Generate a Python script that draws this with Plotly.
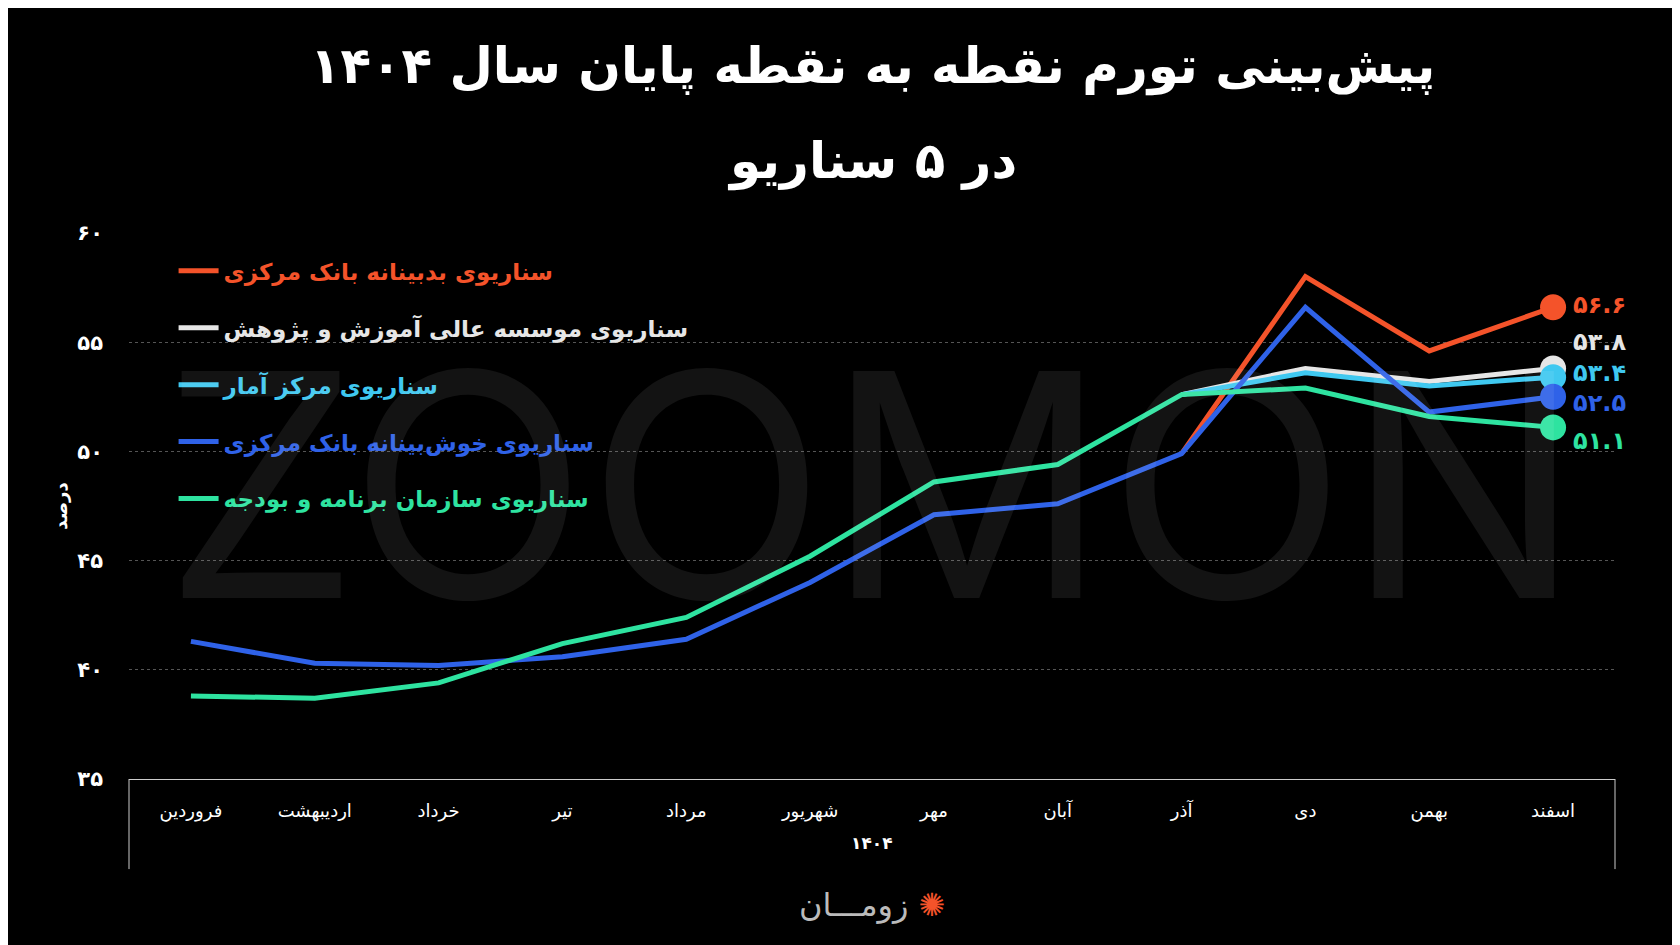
import plotly.graph_objects as go

months = ["فروردین","اردیبهشت","خرداد","تیر","مرداد","شهریور","مهر","آبان","آذر","دی","بهمن","اسفند"]
budget = [38.8,38.7,39.4,41.2,42.4,45.2,48.6,49.4,52.6,52.9,51.6,51.1]
optimistic = [41.3,40.3,40.2,40.6,41.4,44.0,47.1,47.6,49.9,56.6,51.8,52.5]
pessimistic = [None]*8 + [49.9,58.0,54.6,56.6]
research = [None]*8 + [52.6,53.8,53.2,53.8]
stats = [None]*8 + [52.6,53.6,53.0,53.4]
end_labels = ["۵۶.۶","۵۳.۸","۵۳.۴","۵۲.۵","۵۱.۱"]
names = ["سناریوی بدبینانه بانک مرکزی","سناریوی موسسه عالی آموزش و پژوهش","سناریوی مرکز آمار",
         "سناریوی خوش‌بینانه بانک مرکزی","سناریوی سازمان برنامه و بودجه"]
colors = ["#f4532a","#e6e6e6","#3fc8f0","#2f62e8","#2ee3a0"]
series = [pessimistic, research, stats, optimistic, budget]
label_shift = [2, 26, 4, -6, -14]
yticks = [35,40,45,50,55,60]
ytick_text = ["۳۵","۴۰","۴۵","۵۰","۵۵","۶۰"]

F = "DejaVu Sans"
fig = go.Figure()
for i in range(5):
    fig.add_trace(go.Scatter(
        x=months, y=series[i], mode="lines",
        line=dict(color=colors[i], width=5), legendgroup=f"g{i}",
        name=f"<b><span style='color:{colors[i]}'>{names[i]}</span></b>",
        legendrank=i+1))
for i in range(5):
    fig.add_trace(go.Scatter(
        x=[months[-1]], y=[series[i][-1]], mode="markers",
        marker=dict(color=colors[i], size=26),
        showlegend=False, cliponaxis=False))
    fig.add_annotation(x=months[-1], y=series[i][-1], text=f"<b>{end_labels[i]}</b>", showarrow=False,
                       xanchor="left", xshift=18, yshift=label_shift[i],
                       font=dict(color=colors[i], size=24, family=F))

fig.add_annotation(text="ZOOMON", x=0.5, y=0.54, xref="paper", yref="paper", showarrow=False,
                   font=dict(size=312, color="rgba(255,255,255,0.075)", family="Inter"))
fig.add_annotation(text="<b>پیش‌بینی تورم نقطه به نقطه پایان سال ۱۴۰۴</b>",
                   x=0.5, y=1.0, xref="paper", yref="paper", yshift=198, showarrow=False,
                   font=dict(size=50, color="white", family=F))
fig.add_annotation(text="<b>در ۵ سناریو</b>",
                   x=0.5, y=1.0, xref="paper", yref="paper", yshift=103, showarrow=False,
                   font=dict(size=50, color="white", family=F))
fig.add_annotation(text="<b>درصد</b>", x=-0.055, y=0.5, xref="paper", yref="paper", showarrow=False,
                   textangle=-90, font=dict(size=18, color="white", family=F))
fig.add_annotation(text="<b>۱۴۰۴</b>", x=0.5, y=-0.14, xref="paper", yref="paper", showarrow=False,
                   font=dict(size=17, color="white", family=F))
fig.add_annotation(text="زومـــان <span style='color:#f4532a'>✺</span>", x=0.5, y=-0.27, xref="paper", yref="paper", showarrow=False,
                   font=dict(size=32, color="#bbbbbb", family=F))
for xv in [0, 1]:
    fig.add_shape(type="line", x0=xv, x1=xv, y0=0, y1=-0.165, xref="paper", yref="paper",
                  line=dict(color="#cccccc", width=1))

fig.update_layout(
    width=1680, height=945, paper_bgcolor="black", plot_bgcolor="black",
    margin=dict(l=121, r=73, t=225, b=174),
    font=dict(family=F, color="white"),
    legend=dict(x=0.03, y=0.97, xanchor="left", yanchor="top", bgcolor="rgba(0,0,0,0)",
                font=dict(size=23, family=F), tracegroupgap=24, itemwidth=40),
    xaxis=dict(range=[-0.5, 11.5], showgrid=False, showline=True, linecolor="#cccccc",
               tickfont=dict(size=18, color="white"), ticks="", ticklabelstandoff=15),
    yaxis=dict(range=[35, 60], tickvals=yticks, ticktext=[f"<b>{t}</b>" for t in ytick_text], showgrid=True,
               gridcolor="#555555", griddash="dot", zeroline=False,
               tickfont=dict(size=21, color="white"), ticklabelstandoff=25),
)
fig.write_html("out.html")
